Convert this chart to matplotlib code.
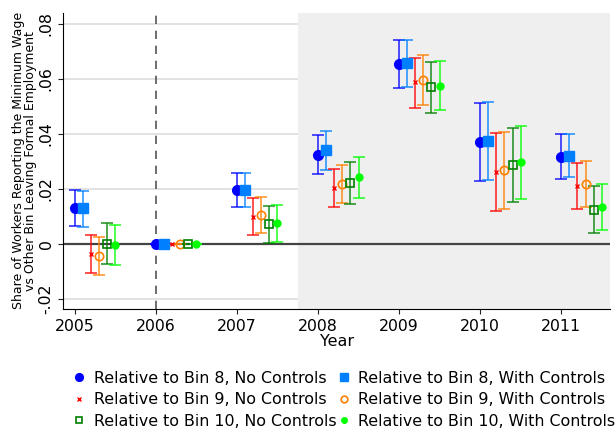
import matplotlib.pyplot as plt

years = [2005, 2006, 2007, 2008, 2009, 2010, 2011]

labels = ['Relative to Bin 8, No Controls', 'Relative to Bin 8, With Controls',
          'Relative to Bin 9, No Controls', 'Relative to Bin 9, With Controls',
          'Relative to Bin 10, No Controls', 'Relative to Bin 10, With Controls']

# point estimates
b8_no = [0.0130, 0.0, 0.0198, 0.0324, 0.0655, 0.0370, 0.0317]
b8_w = [0.0130, 0.0, 0.0198, 0.0340, 0.0657, 0.0375, 0.0321]
b9_no = [-0.0036, 0.0, 0.0099, 0.0204, 0.0587, 0.0262, 0.0211]
b9_w = [-0.0042, 0.0, 0.0107, 0.0218, 0.0594, 0.0268, 0.0219]
b10_no = [0.0002, 0.0, 0.0072, 0.0223, 0.0569, 0.0287, 0.0125]
b10_w = [-0.0004, 0.0, 0.0077, 0.0242, 0.0574, 0.0297, 0.0135]

# confidence intervals (upper, lower)
b8_no_hi = [0.0195, 0.0, 0.0258, 0.0395, 0.0741, 0.0511, 0.0398]
b8_no_lo = [0.0065, 0.0, 0.0133, 0.0253, 0.0568, 0.0228, 0.0236]
b8_w_hi = [0.0193, 0.0, 0.0258, 0.0410, 0.0741, 0.0515, 0.0400]
b8_w_lo = [0.0063, 0.0, 0.0133, 0.0268, 0.0570, 0.0233, 0.0243]
b9_no_hi = [0.0033, 0.0, 0.0166, 0.0274, 0.0677, 0.0403, 0.0294]
b9_no_lo = [-0.0106, 0.0, 0.0033, 0.0133, 0.0495, 0.0121, 0.0128]
b9_w_hi = [0.0025, 0.0, 0.0171, 0.0287, 0.0685, 0.0406, 0.0301]
b9_w_lo = [-0.0112, 0.0, 0.0039, 0.0149, 0.0504, 0.0128, 0.0136]
b10_no_hi = [0.0076, 0.0, 0.0140, 0.0297, 0.0659, 0.0422, 0.0211]
b10_no_lo = [-0.0072, 0.0, 0.0005, 0.0147, 0.0477, 0.0152, 0.0041]
b10_w_hi = [0.0069, 0.0, 0.0142, 0.0316, 0.0663, 0.0429, 0.0218]
b10_w_lo = [-0.0077, 0.0, 0.0008, 0.0169, 0.0485, 0.0162, 0.0051]

ytick_vals = [-0.02, 0, 0.02, 0.04, 0.06, 0.08]
ytick_labels = ['-.02', '0', '.02', '.04', '.06', '.08']

series = [
    (b8_no, b8_no_lo, b8_no_hi, '#0000ff', 'o', 7, True),
    (b8_w, b8_w_lo, b8_w_hi, '#0080ff', 's', 7, True),
    (b9_no, b9_no_lo, b9_no_hi, '#ff0000', 'x', 3, True),
    (b9_w, b9_w_lo, b9_w_hi, '#ff8000', 'o', 6, False),
    (b10_no, b10_no_lo, b10_no_hi, '#008000', 's', 6, False),
    (b10_w, b10_w_lo, b10_w_hi, '#00ff00', 'o', 5, True),
]

fig = plt.figure(figsize=(6.16, 4.29), dpi=100)
ax = fig.add_axes([0.103, 0.28, 0.887, 0.69])
ax.set_axisbelow(True)

ax.set_xlim(2004.86, 2011.6)
ax.set_ylim(-0.0235, 0.0839)

ax.set_yticks(ytick_vals)
ax.set_yticklabels(ytick_labels, rotation=90, va='center')
ax.set_xticks(years)
ax.tick_params(labelsize=11.3, colors='#222222', labelcolor='black')
ax.grid(axis='y', color='#dddddd', linewidth=1.2)
ax.axvspan(2007.75, 2011.6, color='#efefef', zorder=1, lw=0)
ax.axvline(2006, color='#555555', linestyle=(0, (5, 4)), linewidth=1.2, zorder=2)
ax.axhline(0, color='#444444', linewidth=1.6, zorder=2)

handles = []
for i, (vals, lo, hi, col, mk, ms, filled) in enumerate(series):
    xs = [y + 0.1 * i for y in years]
    err = [[v - l for v, l in zip(vals, lo)], [h - v for v, h in zip(vals, hi)]]
    ax.errorbar(xs, vals, yerr=err, fmt='none', ecolor=col, elinewidth=1.3,
                capsize=4, capthick=1.3, alpha=0.75, zorder=3)
    if filled:
        h, = ax.plot(xs, vals, linestyle='none', marker=mk, markersize=ms,
                     color=col, markeredgecolor=col, zorder=4)
    else:
        h, = ax.plot(xs, vals, linestyle='none', marker=mk, markersize=ms,
                     markerfacecolor='none', markeredgecolor=col,
                     markeredgewidth=1.2, zorder=4)
    handles.append(h)

for s in ['top', 'right']:
    ax.spines[s].set_visible(False)

ax.set_xlabel('Year', fontsize=11.5, labelpad=0)
ax.set_ylabel('Share of Workers Reporting the Minimum Wage\nvs Other Bin Leaving Formal Employment',
              fontsize=9, linespacing=0.95, labelpad=1)

order = [0, 2, 4, 1, 3, 5]
fig.legend([handles[i] for i in order], [labels[i] for i in order], ncol=2,
           loc='upper left', bbox_to_anchor=(0.116, 0.136), frameon=False,
           fontsize=11.4, handletextpad=0.4, columnspacing=0.0, handlelength=1.0,
           labelspacing=0.42, borderaxespad=0, borderpad=0, markerscale=0.8)

fig.savefig('out.png', dpi=100)
